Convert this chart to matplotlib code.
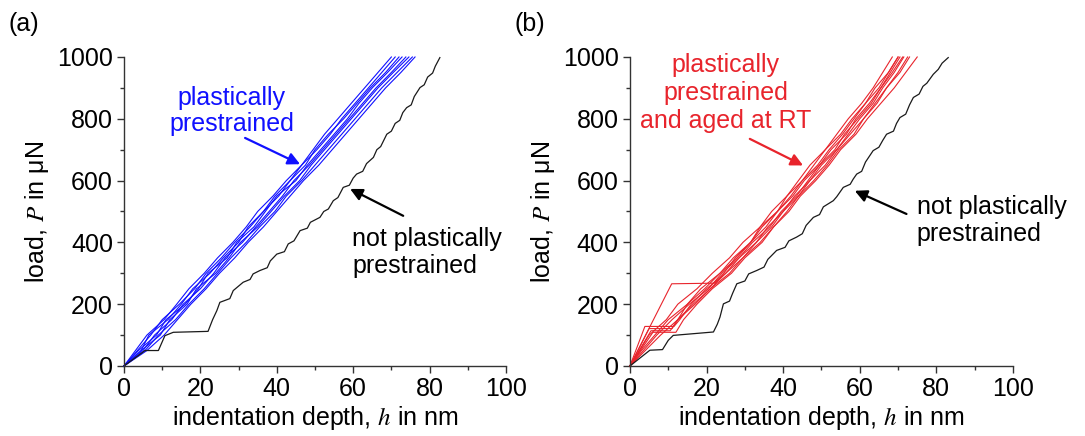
import matplotlib
matplotlib.use("Agg")
import matplotlib.pyplot as plt
from matplotlib.ticker import MultipleLocator

plt.rcParams["font.family"] = ["Liberation Sans", "DejaVu Sans"]
plt.rcParams["mathtext.fontset"] = "stix"

# load grid (µN) shared by the regular curves
load_grid = [0, 50, 100, 150, 200, 250, 300, 350, 400, 450, 500,
             550, 600, 650, 700, 750, 800, 850, 900, 950, 1000]

# (a) plastically prestrained, depth (nm) at each load of load_grid
blue_depths = [
    [0, 3.0, 6.0, 10.5, 13.8, 17.0, 21.0, 24.5, 28.5, 32.0, 35.0, 39.0, 42.5, 46.5, 49.5, 52.5, 56.0, 59.5, 63.0, 66.5, 70.0],
    [0, 3.5, 7.0, 10.0, 14.5, 18.5, 21.5, 25.5, 29.0, 33.0, 36.5, 39.5, 43.5, 46.5, 50.5, 54.0, 57.0, 60.5, 64.0, 67.5, 71.0],
    [0, 4.5, 6.5, 11.5, 15.0, 18.0, 22.5, 26.0, 30.0, 32.5, 36.5, 40.5, 43.5, 47.5, 50.0, 53.5, 57.5, 61.0, 64.5, 68.5, 72.0],
    [0, 3.8, 8.5, 11.0, 16.0, 19.5, 22.0, 27.0, 29.5, 34.0, 37.0, 40.0, 45.0, 48.0, 51.5, 55.0, 58.5, 61.5, 65.0, 69.0, 72.8],
    [0, 5.0, 8.0, 12.5, 15.5, 20.0, 23.5, 26.5, 31.0, 34.5, 38.0, 41.5, 44.5, 48.5, 52.0, 55.5, 59.0, 62.5, 66.0, 70.0, 73.8],
    [0, 4.5, 9.5, 12.0, 16.5, 19.0, 24.0, 27.5, 30.5, 35.0, 38.5, 42.0, 46.0, 49.0, 52.5, 56.0, 59.5, 63.0, 66.5, 70.5, 74.6],
    [0, 5.5, 9.0, 13.5, 17.0, 21.0, 24.5, 28.0, 32.0, 35.5, 39.5, 42.5, 46.5, 50.0, 53.5, 57.0, 60.5, 64.0, 67.5, 71.5, 75.5],
    [0, 6.0, 10.5, 14.0, 17.5, 21.5, 25.0, 29.0, 32.5, 36.5, 40.0, 43.5, 47.0, 51.0, 54.5, 58.0, 61.5, 65.0, 68.5, 72.5, 76.2],
]

# (b) prestrained and aged at RT, regular curves on load_grid
red_depths = [
    [0, 2.5, 5.0, 9.5, 12.5, 17.5, 21.5, 26.0, 29.5, 34.0, 37.0, 41.0, 44.0, 47.0, 51.0, 54.0, 57.0, 60.5, 63.5, 66.0, 68.5],
    [0, 3.0, 6.5, 10.0, 15.0, 18.5, 23.5, 27.0, 31.5, 34.5, 38.5, 42.0, 45.0, 49.0, 52.0, 55.5, 58.5, 61.5, 65.0, 67.5, 70.0],
    [0, 3.5, 7.0, 11.0, 15.5, 20.5, 24.0, 28.5, 32.0, 36.5, 39.5, 43.5, 46.5, 49.5, 53.5, 56.0, 59.5, 63.0, 65.5, 68.5, 71.2],
    [0, 4.0, 8.0, 12.5, 17.0, 21.0, 26.0, 29.5, 34.0, 37.5, 41.5, 44.5, 48.5, 52.0, 55.0, 59.0, 62.0, 65.5, 69.0, 72.0, 75.0],
]

# (b) curves with pop-ins: (depth, load) pairs
popin_depths = [
    [0, 10.9, 22.2, 24.5, 27.5, 31.5, 34.0, 38.5, 41.0, 45.0, 48.0, 51.0, 55.0, 58.0, 61.5, 64.0, 67.5, 70.0],
    [0, 3.9, 11.5, 13.0, 16.0, 20.0, 25.0, 28.5, 33.0, 36.0, 40.0, 43.0, 47.0, 50.0, 54.0, 57.0, 60.0, 63.5, 66.0, 69.0, 71.5],
    [0, 5.0, 11.0, 12.5, 15.0, 19.5, 23.5, 28.0, 31.5, 35.5, 38.5, 42.5, 45.5, 49.5, 52.5, 56.5, 59.0, 62.5, 65.5, 68.0, 70.5],
    [0, 5.5, 10.5, 12.5, 16.5, 21.0, 25.0, 29.5, 33.0, 37.0, 40.0, 44.0, 47.0, 51.0, 54.0, 57.5, 61.0, 64.0, 67.0, 70.0, 72.5],
    [0, 6.0, 12.0, 14.0, 17.5, 21.5, 26.5, 30.0, 34.5, 37.5, 41.0, 44.0, 48.0, 51.5, 54.5, 58.5, 61.0, 64.5, 67.0, 70.5, 73.0],
]
popin_loads = [
    [0, 266, 268, 300, 350, 400, 450, 500, 550, 600, 650, 700, 750, 800, 850, 900, 950, 1000],
    [0, 128, 128, 150, 200, 250, 300, 350, 400, 450, 500, 550, 600, 650, 700, 750, 800, 850, 900, 950, 1000],
    [0, 121, 121, 150, 200, 250, 300, 350, 400, 450, 500, 550, 600, 650, 700, 750, 800, 850, 900, 950, 1000],
    [0, 114, 114, 150, 200, 250, 300, 350, 400, 450, 500, 550, 600, 650, 700, 750, 800, 850, 900, 950, 1000],
    [0, 109, 109, 150, 200, 250, 300, 350, 400, 450, 500, 550, 600, 650, 700, 750, 800, 850, 900, 950, 1000],
]

# not plastically prestrained reference curves
black_a_h = [0, 5.5, 9, 10.7, 12.9, 22, 23.2, 24.3, 25.1, 27.7, 28.6, 31.2, 33, 33.8, 35.6, 37.5, 38.3, 40,
             42, 43, 44.5, 46.1, 48, 48.8, 51.3, 52.3, 53.5, 54.8, 56, 57.4, 59, 60, 60.9, 62.5, 63.5,
             65.3, 66.2, 67.2, 68.8, 70, 71, 72.2, 73, 74, 75.2, 76, 77.5, 78.6, 79.5, 80.8, 81.5, 82.7]
black_a_P = [0, 50, 50, 98, 109, 112, 150, 179, 206, 218, 244, 271, 280, 298, 309, 318, 340, 362,
             370, 395, 405, 438, 446, 465, 481, 500, 508, 535, 545, 578, 585, 608, 621, 630, 655,
             675, 700, 710, 750, 760, 785, 795, 820, 836, 845, 872, 901, 910, 935, 948, 970, 998]
black_b_h = [0, 5.2, 8.5, 10, 11.3, 21.8, 22.8, 23.5, 24.4, 26, 26.8, 27.9, 30, 31, 33.1, 35, 36, 38.3,
             40.5, 41.5, 43.5, 45, 46, 47.9, 49.5, 50.5, 53.1, 54, 55.7, 57.5, 58.3, 59.2, 60.5, 61.5,
             63.5, 65, 66, 67, 68.8, 69.6, 70.5, 72, 73, 74, 75.5, 76.5, 77.5, 79.2, 80.5, 81.5, 83.1]
black_b_P = [0, 51, 53, 83, 99, 110, 135, 158, 201, 210, 235, 266, 275, 298, 309, 320, 345, 374,
             384, 405, 417, 428, 455, 481, 490, 515, 535, 548, 578, 588, 605, 621, 630, 660,
             697, 708, 730, 750, 760, 785, 804, 815, 845, 869, 880, 905, 915, 944, 960, 980, 998]

blue = "#1010ff"
red = "#e8242c"
dark = "#1a1a1a"

fig = plt.figure(figsize=(10.85, 4.36), dpi=100)
ax_a = fig.add_axes([0.1143, 0.1606, 0.352, 0.7087])
ax_b = fig.add_axes([0.5806, 0.1606, 0.353, 0.7087])

for ax in (ax_a, ax_b):
    ax.set_xlim(0, 100)
    ax.set_ylim(0, 1000)
    ax.spines["top"].set_visible(False)
    ax.spines["right"].set_visible(False)
    for s in ("left", "bottom"):
        ax.spines[s].set_color("#333333")
        ax.spines[s].set_linewidth(1.0)
    ax.xaxis.set_major_locator(MultipleLocator(20))
    ax.xaxis.set_minor_locator(MultipleLocator(10))
    ax.yaxis.set_major_locator(MultipleLocator(200))
    ax.yaxis.set_minor_locator(MultipleLocator(100))
    ax.tick_params(which="major", direction="out", length=5, width=1, colors="#333333",
                   labelsize=18, labelcolor="black", pad=3)
    ax.tick_params(which="minor", direction="out", length=3, width=1, colors="#333333")
    ax.set_xlabel("indentation depth, $h$ in nm", fontsize=18, labelpad=2)
    ax.set_ylabel("load, $P$ in μN", fontsize=18, labelpad=4)


def arrow(ax, tail, head, color):
    ax.annotate("", xy=head, xytext=tail,
                arrowprops=dict(arrowstyle="-|>", color=color, lw=1.6,
                                mutation_scale=18, shrinkA=0, shrinkB=0))


# panel (a)
for d in blue_depths:
    ax_a.plot(d, load_grid, color=blue, lw=0.8, clip_on=False)
ax_a.plot(black_a_h, black_a_P, color=dark, lw=0.9, clip_on=False)

ax_a.text(28.2, 826, "plastically\nprestrained", ha="center", va="center", fontsize=18,
          color=blue, linespacing=1.12)
arrow(ax_a, (31.7, 738), (46.1, 653), blue)
ax_a.text(59.8, 367, "not plastically\nprestrained", ha="left", va="center", fontsize=18,
          color="black", linespacing=1.12)
arrow(ax_a, (73.1, 486), (59.2, 573), "black")

# panel (b)
for d in red_depths:
    ax_b.plot(d, load_grid, color=red, lw=0.8, clip_on=False)
for h, p in zip(popin_depths, popin_loads):
    ax_b.plot(h, p, color=red, lw=0.8, clip_on=False)
ax_b.plot(black_b_h, black_b_P, color=dark, lw=0.9, clip_on=False)

ax_b.text(25.0, 884, "plastically\nprestrained\nand aged at RT", ha="center", va="center",
          fontsize=18, color=red, linespacing=1.22)
arrow(ax_b, (31.3, 735), (45.2, 649), red)
ax_b.text(74.9, 471, "not plastically\nprestrained", ha="left", va="center", fontsize=18,
          color="black", linespacing=1.12)
arrow(ax_b, (72.2, 492), (58.7, 567), "black")

fig.text(0.008, 0.945, "(a)", fontsize=18, va="center", ha="left")
fig.text(0.474, 0.945, "(b)", fontsize=18, va="center", ha="left")

fig.savefig("out.png", dpi=100)
